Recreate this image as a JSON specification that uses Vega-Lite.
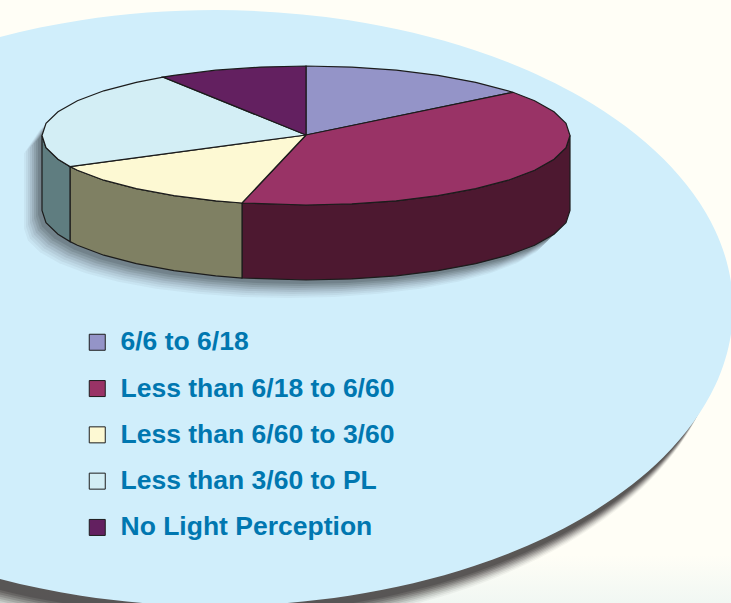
{"$schema":"https://vega.github.io/schema/vega-lite/v6.json","width":731,"height":603,"padding":0,"autosize":{"type":"fit","contains":"padding"},"background":"#fffef6","config":{"view":{"stroke":null}},
"datasets":{
"backdrop":[{"x":733,"y":308},{"x":715.4,"y":385.1},{"x":663.6,"y":457},{"x":581.3,"y":518.7},{"x":474,"y":566.1},{"x":349.1,"y":595.8},{"x":215,"y":606},{"x":80.9,"y":595.8},{"x":-44,"y":566.1},{"x":-151.3,"y":518.7},{"x":-233.6,"y":457},{"x":-285.4,"y":385.1},{"x":-303,"y":308},{"x":-285.4,"y":230.9},{"x":-233.6,"y":159},{"x":-151.3,"y":97.3},{"x":-44,"y":49.9},{"x":80.9,"y":20.2},{"x":215,"y":10},{"x":349.1,"y":20.2},{"x":474,"y":49.9},{"x":581.3,"y":97.3},{"x":663.6,"y":159},{"x":715.4,"y":230.9}],
"silhouette":[{"x":42,"y":135.5},{"x":58,"y":111.7},{"x":103.8,"y":90.8},{"x":174,"y":75.3},{"x":260.2,"y":67.1},{"x":351.8,"y":67.1},{"x":438,"y":75.3},{"x":508.2,"y":90.8},{"x":554,"y":111.7},{"x":570,"y":135.5},{"x":570,"y":210.5},{"x":566,"y":222.6},{"x":554,"y":234.3},{"x":534.6,"y":245.3},{"x":508.2,"y":255.2},{"x":475.7,"y":263.7},{"x":438,"y":270.7},{"x":396.3,"y":275.8},{"x":351.8,"y":278.9},{"x":306,"y":280},{"x":260.2,"y":278.9},{"x":215.7,"y":275.8},{"x":174,"y":270.7},{"x":136.3,"y":263.7},{"x":103.8,"y":255.2},{"x":77.4,"y":245.3},{"x":58,"y":234.3},{"x":46,"y":222.6},{"x":42,"y":210.5},{"x":42,"y":135.5}],
"sides":[
{"category":"Less than 6/18 to 6/60","x":570,"y":135.5,"y2":210.5},{"category":"Less than 6/18 to 6/60","x":566,"y":147.6,"y2":222.6},{"category":"Less than 6/18 to 6/60","x":554,"y":159.3,"y2":234.3},{"category":"Less than 6/18 to 6/60","x":534.6,"y":170.3,"y2":245.3},{"category":"Less than 6/18 to 6/60","x":508.2,"y":180.2,"y2":255.2},{"category":"Less than 6/18 to 6/60","x":475.7,"y":188.7,"y2":263.7},{"category":"Less than 6/18 to 6/60","x":438,"y":195.7,"y2":270.7},{"category":"Less than 6/18 to 6/60","x":396.3,"y":200.8,"y2":275.8},{"category":"Less than 6/18 to 6/60","x":351.8,"y":203.9,"y2":278.9},{"category":"Less than 6/18 to 6/60","x":306,"y":205,"y2":280},{"category":"Less than 6/18 to 6/60","x":242,"y":203,"y2":278},
{"category":"Less than 6/60 to 3/60","x":242,"y":203,"y2":278},{"category":"Less than 6/60 to 3/60","x":215.7,"y":200.8,"y2":275.8},{"category":"Less than 6/60 to 3/60","x":174,"y":195.7,"y2":270.7},{"category":"Less than 6/60 to 3/60","x":136.3,"y":188.7,"y2":263.7},{"category":"Less than 6/60 to 3/60","x":103.8,"y":180.2,"y2":255.2},{"category":"Less than 6/60 to 3/60","x":77.4,"y":170.3,"y2":245.3},{"category":"Less than 6/60 to 3/60","x":70,"y":166.6,"y2":241.6},
{"category":"Less than 3/60 to PL","x":70,"y":166.6,"y2":241.6},{"category":"Less than 3/60 to PL","x":58,"y":159.3,"y2":234.3},{"category":"Less than 3/60 to PL","x":46,"y":147.6,"y2":222.6},{"category":"Less than 3/60 to PL","x":42,"y":135.5,"y2":210.5}],
"tops":[
{"category":"6/6 to 6/18","x":306,"y":135},{"category":"6/6 to 6/18","x":306,"y":66},{"category":"6/6 to 6/18","x":351.8,"y":67.1},{"category":"6/6 to 6/18","x":396.3,"y":70.2},{"category":"6/6 to 6/18","x":438,"y":75.3},{"category":"6/6 to 6/18","x":475.7,"y":82.3},{"category":"6/6 to 6/18","x":513,"y":92.3},{"category":"6/6 to 6/18","x":306,"y":135},
{"category":"Less than 6/18 to 6/60","x":306,"y":135},{"category":"Less than 6/18 to 6/60","x":513,"y":92.3},{"category":"Less than 6/18 to 6/60","x":534.6,"y":100.8},{"category":"Less than 6/18 to 6/60","x":554,"y":111.7},{"category":"Less than 6/18 to 6/60","x":566,"y":123.4},{"category":"Less than 6/18 to 6/60","x":570,"y":135.5},{"category":"Less than 6/18 to 6/60","x":566,"y":147.6},{"category":"Less than 6/18 to 6/60","x":554,"y":159.3},{"category":"Less than 6/18 to 6/60","x":534.6,"y":170.3},{"category":"Less than 6/18 to 6/60","x":508.2,"y":180.2},{"category":"Less than 6/18 to 6/60","x":475.7,"y":188.7},{"category":"Less than 6/18 to 6/60","x":438,"y":195.7},{"category":"Less than 6/18 to 6/60","x":396.3,"y":200.8},{"category":"Less than 6/18 to 6/60","x":351.8,"y":203.9},{"category":"Less than 6/18 to 6/60","x":306,"y":205},{"category":"Less than 6/18 to 6/60","x":242,"y":203},{"category":"Less than 6/18 to 6/60","x":306,"y":135},
{"category":"Less than 6/60 to 3/60","x":306,"y":135},{"category":"Less than 6/60 to 3/60","x":242,"y":203},{"category":"Less than 6/60 to 3/60","x":215.7,"y":200.8},{"category":"Less than 6/60 to 3/60","x":174,"y":195.7},{"category":"Less than 6/60 to 3/60","x":136.3,"y":188.7},{"category":"Less than 6/60 to 3/60","x":103.8,"y":180.2},{"category":"Less than 6/60 to 3/60","x":77.4,"y":170.3},{"category":"Less than 6/60 to 3/60","x":70,"y":166.6},{"category":"Less than 6/60 to 3/60","x":306,"y":135},
{"category":"Less than 3/60 to PL","x":306,"y":135},{"category":"Less than 3/60 to PL","x":70,"y":166.6},{"category":"Less than 3/60 to PL","x":58,"y":159.3},{"category":"Less than 3/60 to PL","x":46,"y":147.6},{"category":"Less than 3/60 to PL","x":42,"y":135.5},{"category":"Less than 3/60 to PL","x":46,"y":123.4},{"category":"Less than 3/60 to PL","x":58,"y":111.7},{"category":"Less than 3/60 to PL","x":77.4,"y":100.8},{"category":"Less than 3/60 to PL","x":103.8,"y":90.8},{"category":"Less than 3/60 to PL","x":136.3,"y":82.3},{"category":"Less than 3/60 to PL","x":163,"y":77.1},{"category":"Less than 3/60 to PL","x":306,"y":135},
{"category":"No Light Perception","x":306,"y":135},{"category":"No Light Perception","x":163,"y":77.1},{"category":"No Light Perception","x":174,"y":75.3},{"category":"No Light Perception","x":215.7,"y":70.2},{"category":"No Light Perception","x":260.2,"y":67.1},{"category":"No Light Perception","x":306,"y":66},{"category":"No Light Perception","x":306,"y":135}]
},
"encoding":{"x":{"field":"x","type":"quantitative","scale":{"domain":[0,731],"nice":false,"zero":false},"axis":null},"y":{"field":"y","type":"quantitative","scale":{"domain":[603,0],"nice":false,"zero":false},"axis":null},"order":{"value":null}},
"resolve":{"scale":{"fill":"independent"}},
"layer":[
{"data":{"values":[{"x":0,"x2":731,"y":555,"y2":603}]},"mark":{"type":"rect","fill":{"x1":0,"y1":0,"x2":0,"y2":1,"gradient":"linear","stops":[{"offset":0,"color":"#fffef6"},{"offset":1,"color":"#f1f7f3"}]}},"encoding":{"x2":{"field":"x2"},"y2":{"field":"y2"},"order":null}},
{"data":{"name":"backdrop"},"mark":{"type":"line","interpolate":"cardinal-closed","tension":0,"fill":"#3d3838","stroke":null,"opacity":0.05,"xOffset":-15,"yOffset":25,"clip":true}},
{"data":{"name":"backdrop"},"mark":{"type":"line","interpolate":"cardinal-closed","tension":0,"fill":"#3d3838","stroke":null,"opacity":0.07,"xOffset":-14,"yOffset":23,"clip":true}},
{"data":{"name":"backdrop"},"mark":{"type":"line","interpolate":"cardinal-closed","tension":0,"fill":"#3d3838","stroke":null,"opacity":0.1,"xOffset":-13,"yOffset":21,"clip":true}},
{"data":{"name":"backdrop"},"mark":{"type":"line","interpolate":"cardinal-closed","tension":0,"fill":"#3d3838","stroke":null,"opacity":0.13,"xOffset":-12,"yOffset":19,"clip":true}},
{"data":{"name":"backdrop"},"mark":{"type":"line","interpolate":"cardinal-closed","tension":0,"fill":"#3d3838","stroke":null,"opacity":0.16,"xOffset":-11,"yOffset":17,"clip":true}},
{"data":{"name":"backdrop"},"mark":{"type":"line","interpolate":"cardinal-closed","tension":0,"fill":"#3d3838","stroke":null,"opacity":0.2,"xOffset":-10,"yOffset":15,"clip":true}},
{"data":{"name":"backdrop"},"mark":{"type":"line","interpolate":"cardinal-closed","tension":0,"fill":"#3d3838","stroke":null,"opacity":0.25,"xOffset":-9,"yOffset":13,"clip":true}},
{"data":{"name":"backdrop"},"mark":{"type":"line","interpolate":"cardinal-closed","tension":0,"fill":"#3d3838","stroke":null,"opacity":0.3,"xOffset":-8,"yOffset":11,"clip":true}},
{"data":{"name":"backdrop"},"mark":{"type":"line","interpolate":"cardinal-closed","tension":0,"fill":"#3d3838","stroke":null,"opacity":0.35,"xOffset":-7,"yOffset":9,"clip":true}},
{"data":{"name":"backdrop"},"mark":{"type":"line","interpolate":"cardinal-closed","tension":0,"fill":"#d0eefb","stroke":null,"clip":true}},
{"data":{"name":"silhouette"},"mark":{"type":"line","fill":"#333b40","stroke":null,"opacity":0.05,"xOffset":-18,"yOffset":18}},
{"data":{"name":"silhouette"},"mark":{"type":"line","fill":"#333b40","stroke":null,"opacity":0.06,"xOffset":-16,"yOffset":16}},
{"data":{"name":"silhouette"},"mark":{"type":"line","fill":"#333b40","stroke":null,"opacity":0.07,"xOffset":-14,"yOffset":14}},
{"data":{"name":"silhouette"},"mark":{"type":"line","fill":"#333b40","stroke":null,"opacity":0.09,"xOffset":-12,"yOffset":12}},
{"data":{"name":"silhouette"},"mark":{"type":"line","fill":"#333b40","stroke":null,"opacity":0.11,"xOffset":-10,"yOffset":10}},
{"data":{"name":"silhouette"},"mark":{"type":"line","fill":"#333b40","stroke":null,"opacity":0.13,"xOffset":-8,"yOffset":8}},
{"data":{"name":"silhouette"},"mark":{"type":"line","fill":"#333b40","stroke":null,"opacity":0.15,"xOffset":-6,"yOffset":6}},
{"data":{"name":"silhouette"},"mark":{"type":"line","fill":"#333b40","stroke":null,"opacity":0.18,"xOffset":-4,"yOffset":4}},
{"data":{"name":"sides"},"mark":{"type":"area","stroke":"#1c1c1c","strokeWidth":1.2},"encoding":{"y2":{"field":"y2"},"order":null,"fill":{"field":"category","type":"nominal","legend":null,"scale":{"domain":["Less than 6/18 to 6/60","Less than 6/60 to 3/60","Less than 3/60 to PL"],"range":["#4d1830","#7f8063","#5f7d80"]}}}},
{"data":{"name":"tops"},"mark":{"type":"line","stroke":"#1c1c1c","strokeWidth":1.2},"encoding":{"fill":{"field":"category","type":"nominal","scale":{"domain":["6/6 to 6/18","Less than 6/18 to 6/60","Less than 6/60 to 3/60","Less than 3/60 to PL","No Light Perception"],"range":["#9494c8","#993366","#fdf9d3","#d3eef5","#632060"]},"legend":{"title":null,"orient":"none","legendX":84,"legendY":329,"padding":0,"symbolType":"square","symbolSize":256,"symbolStrokeColor":"#1c1c1c","symbolStrokeWidth":1,"labelFont":"Liberation Sans","labelFontWeight":"bold","labelFontSize":26.5,"labelColor":"#0077b0","labelOffset":10,"rowPadding":19.3,"labelLimit":400}}}}
]}
